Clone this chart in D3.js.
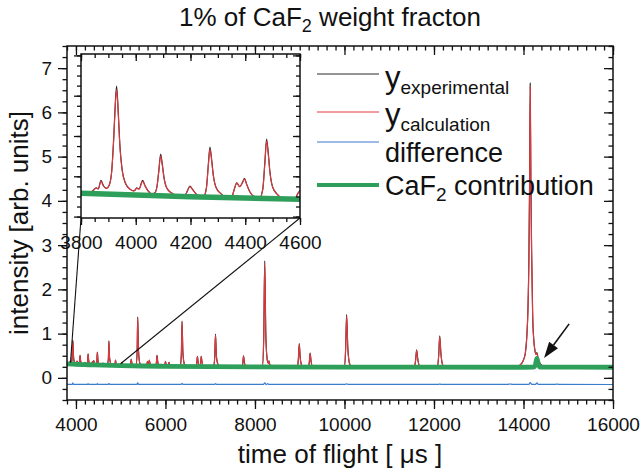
<!DOCTYPE html>
<html>
<head>
<meta charset="utf-8">
<script src="https://cdn.jsdelivr.net/npm/d3@7"></script>
<style>
  body { margin: 0; background: #fff; }
  svg text { font-family: "Liberation Sans", Arial, Helvetica, sans-serif; fill: #111; }
</style>
</head>
<body>
<div id="chart"></div>
<script>
// ---- values ----
// time of flight [us] for the experimental / calculated pattern
const tof = [
    3800, 3830, 3845, 3855, 3863, 3873, 3882, 3893,
    3903, 3912, 3920, 3925, 3930, 3936, 3942, 3950, 3962, 3980, 3992,
    3998, 4003, 4012, 4025, 4034, 4045, 4060,
    4070, 4078, 4084, 4091, 4097, 4103, 4113, 4131, 4151,
    4178, 4189, 4198, 4207, 4220, 4238,
    4248, 4258, 4265, 4271, 4277, 4283, 4293, 4311, 4331,
    4350, 4361, 4369, 4380, 4390, 4397, 4405, 4416, 4435,
    4453, 4464, 4472, 4478, 4484, 4490, 4500, 4518, 4538,
    4580, 4594, 4605, 4616, 4632, 4655,
    4700, 4724, 4736, 4752, 4790, 4830,
    4860, 4875, 4884, 4895, 4915,
    5010, 5022, 5030, 5040, 5060,
    5205, 5224, 5235, 5250, 5275,
    5340, 5366, 5380, 5398, 5430, 5470,
    5570, 5588, 5597, 5615, 5630, 5640, 5655, 5680,
    5780, 5798, 5811, 5828, 5860,
    5975, 5990, 6000, 6015, 6040, 6065, 6080, 6095, 6120,
    6330, 6355, 6370, 6390, 6425, 6465,
    6680, 6700, 6714, 6732, 6760, 6785, 6800, 6818, 6850,
    7075, 7100, 7118, 7140, 7180, 7230,
    7710, 7728, 7744, 7765, 7800,
    8165, 8195, 8218, 8243, 8275, 8300, 8312, 8330, 8380,
    8945, 8970, 8990, 9012, 9050, 9090,
    9195, 9215, 9232, 9254, 9290,
    9995, 10025, 10048, 10075, 10120, 10170,
    11560, 11590, 11612, 11638, 11690,
    12075, 12105, 12128, 12156, 12205, 12260,
    13850, 13925, 13990, 14040, 14075, 14100, 14120, 14135, 14150, 14165, 14182,
    14205, 14230, 14255, 14278, 14300, 14322, 14355, 14400, 14470, 14560,
    16000
];
const yCalc = [
    0.316, 0.316, 0.330, 0.341, 0.337, 0.375, 0.352, 0.340,
    0.355, 0.420, 0.596, 0.742, 0.830, 0.711, 0.549, 0.432, 0.366, 0.335, 0.328,
    0.332, 0.341, 0.336, 0.375, 0.352, 0.328, 0.312,
    0.318, 0.352, 0.420, 0.500, 0.455, 0.393, 0.342, 0.317, 0.303,
    0.301, 0.328, 0.349, 0.335, 0.313, 0.299,
    0.300, 0.340, 0.450, 0.535, 0.480, 0.406, 0.345, 0.314, 0.297,
    0.297, 0.340, 0.366, 0.348, 0.368, 0.386, 0.360, 0.325, 0.298,
    0.293, 0.335, 0.470, 0.575, 0.510, 0.420, 0.346, 0.309, 0.290,
    0.288, 0.318, 0.332, 0.316, 0.295, 0.285,
    0.284, 0.420, 0.820, 0.440, 0.300, 0.281,
    0.280, 0.330, 0.400, 0.330, 0.283,
    0.277, 0.310, 0.350, 0.310, 0.277,
    0.274, 0.330, 0.420, 0.330, 0.275,
    0.271, 0.550, 1.350, 0.600, 0.320, 0.270,
    0.267, 0.320, 0.370, 0.300, 0.340, 0.400, 0.320, 0.268,
    0.265, 0.350, 0.500, 0.360, 0.266,
    0.262, 0.310, 0.370, 0.300, 0.265, 0.290, 0.350, 0.290, 0.261,
    0.259, 0.520, 1.260, 0.560, 0.300, 0.257,
    0.256, 0.340, 0.480, 0.340, 0.262, 0.340, 0.480, 0.340, 0.256,
    0.254, 0.450, 0.970, 0.470, 0.290, 0.253,
    0.250, 0.330, 0.490, 0.340, 0.252,
    0.248, 0.850, 2.600, 0.950, 0.400, 0.330, 0.380, 0.300, 0.250,
    0.246, 0.420, 0.760, 0.440, 0.270, 0.245,
    0.246, 0.360, 0.550, 0.370, 0.250,
    0.244, 0.620, 1.400, 0.660, 0.300, 0.243,
    0.242, 0.400, 0.620, 0.420, 0.250,
    0.242, 0.500, 0.930, 0.530, 0.270, 0.241,
    0.242, 0.290, 0.380, 0.550, 0.950, 1.550, 2.600, 4.200, 6.580, 4.400, 2.800,
    1.400, 0.850, 0.620, 0.530, 0.560, 0.460, 0.350, 0.290, 0.255, 0.242,
    0.240
];
const yExp = [
    0.316, 0.316, 0.331, 0.343, 0.338, 0.380, 0.353, 0.340,
    0.356, 0.424, 0.605, 0.755, 0.848, 0.722, 0.556, 0.436, 0.367, 0.335, 0.328,
    0.332, 0.343, 0.337, 0.380, 0.353, 0.328, 0.312,
    0.318, 0.353, 0.425, 0.510, 0.460, 0.396, 0.343, 0.317, 0.303,
    0.301, 0.329, 0.351, 0.336, 0.313, 0.299,
    0.300, 0.341, 0.456, 0.545, 0.487, 0.410, 0.346, 0.314, 0.297,
    0.297, 0.341, 0.368, 0.349, 0.370, 0.390, 0.361, 0.325, 0.298,
    0.293, 0.336, 0.477, 0.585, 0.518, 0.425, 0.347, 0.309, 0.290,
    0.288, 0.319, 0.334, 0.317, 0.295, 0.285,
    0.284, 0.425, 0.835, 0.445, 0.300, 0.281,
    0.280, 0.331, 0.404, 0.331, 0.283,
    0.277, 0.311, 0.352, 0.311, 0.277,
    0.274, 0.331, 0.425, 0.331, 0.275,
    0.271, 0.560, 1.375, 0.610, 0.321, 0.270,
    0.267, 0.321, 0.373, 0.301, 0.341, 0.404, 0.321, 0.268,
    0.265, 0.352, 0.508, 0.362, 0.266,
    0.262, 0.311, 0.373, 0.301, 0.265, 0.291, 0.353, 0.291, 0.261,
    0.259, 0.528, 1.285, 0.568, 0.301, 0.257,
    0.256, 0.342, 0.488, 0.342, 0.262, 0.342, 0.486, 0.342, 0.256,
    0.254, 0.455, 0.990, 0.476, 0.291, 0.253,
    0.250, 0.332, 0.497, 0.342, 0.252,
    0.248, 0.865, 2.645, 0.965, 0.405, 0.332, 0.384, 0.301, 0.250,
    0.246, 0.425, 0.775, 0.445, 0.271, 0.245,
    0.246, 0.362, 0.560, 0.372, 0.250,
    0.244, 0.630, 1.430, 0.670, 0.301, 0.243,
    0.242, 0.403, 0.632, 0.424, 0.250,
    0.242, 0.505, 0.950, 0.535, 0.271, 0.241,
    0.242, 0.291, 0.382, 0.555, 0.960, 1.570, 2.640, 4.260, 6.660, 4.460, 2.830,
    1.420, 0.860, 0.625, 0.535, 0.570, 0.465, 0.352, 0.291, 0.255, 0.242,
    0.240
];

// difference curve (offset below zero)
const diffTof = [3800, 3920, 3930, 3942, 4260, 4271, 4282, 4468, 4478, 4490, 4725, 4736, 4750,
    5365, 5380, 5398, 6355, 6370, 6390, 7100, 7118, 7140, 8195, 8218, 8243, 8260, 8285, 8305,
    10025, 10048, 10075, 12105, 12128, 12156, 13650, 13700, 13750, 14120, 14150, 14185,
    14270, 14300, 14330, 14720, 14750, 14780, 16000];
const yDiff = [-0.145, -0.145, -0.115, -0.145, -0.145, -0.130, -0.145, -0.145, -0.128, -0.145, -0.145, -0.125, -0.145,
    -0.145, -0.110, -0.145, -0.145, -0.125, -0.145, -0.145, -0.130, -0.145, -0.145, -0.110, -0.145, -0.145, -0.130, -0.145,
    -0.145, -0.135, -0.145, -0.145, -0.138, -0.145, -0.145, -0.138, -0.145, -0.145, -0.105, -0.145,
    -0.145, -0.115, -0.145, -0.145, -0.138, -0.145, -0.150];

// CaF2 contribution (incl. background)
const cafTof = [3800, 4000, 4200, 4400, 4600, 5000, 5500, 6000, 7000, 8000, 10000, 12000, 14000,
    14230, 14265, 14300, 14335, 14370, 16000];
const yCaF2 = [0.316, 0.307, 0.299, 0.292, 0.286, 0.277, 0.268, 0.262, 0.253, 0.248, 0.243, 0.241, 0.240,
    0.242, 0.290, 0.440, 0.300, 0.243, 0.240];

// axes
const xDomain = [3800, 16000];
const yDomain = [-0.5, 7.5];
const xTicks = [4000, 6000, 8000, 10000, 12000, 14000, 16000];
const yTicks = [0, 1, 2, 3, 4, 5, 6, 7];
const insetXDomain = [3800, 4600];
const insetYDomain = [0.193, 1.007];
const insetXTicks = [3800, 4000, 4200, 4400, 4600];
const insetYTicks = [0.2, 0.4, 0.6, 0.8, 1.0];

// annotations (data units)
const connectorEnds = [[3878, 0.34], [4996, 0.32]];
const arrowFrom = [15020, 1.22];
const arrowTo = [14460, 0.45];

const colors = { exp: '#2b2b2b', calc: '#e2383d', diff: '#3b7bcb', caf: '#2e9f5b' };

function createChart() {
    const width = 640, height = 473;
    const margin = { top: 46, right: 27, bottom: 73, left: 67 };
    const plotW = width - margin.left - margin.right;
    const plotH = height - margin.top - margin.bottom;
    const inset = { left: 81, top: 54, width: 219, height: 164 };

    const svg = d3.select('#chart').append('svg')
        .attr('width', width)
        .attr('height', height);

    const x = d3.scaleLinear().domain(xDomain).range([margin.left, margin.left + plotW]);
    const y = d3.scaleLinear().domain(yDomain).range([margin.top + plotH, margin.top]);
    const ix = d3.scaleLinear().domain(insetXDomain).range([inset.left, inset.left + inset.width]);
    const iy = d3.scaleLinear().domain(insetYDomain).range([inset.top + inset.height, inset.top]);

    const defs = svg.append('defs');
    defs.append('clipPath').attr('id', 'clip-main').append('rect')
        .attr('x', margin.left).attr('y', margin.top).attr('width', plotW).attr('height', plotH);
    defs.append('clipPath').attr('id', 'clip-inset').append('rect')
        .attr('x', inset.left).attr('y', inset.top).attr('width', inset.width).attr('height', inset.height);

    const patExp = d3.zip(tof, yExp);
    const patCalc = d3.zip(tof, yCalc);
    const patDiff = d3.zip(diffTof, yDiff);
    const patCaf = d3.zip(cafTof, yCaF2);

    function drawSeries(g, sx, sy, withDiff, cafWidth) {
        const line = d3.line().x(d => sx(d[0])).y(d => sy(d[1])).curve(d3.curveMonotoneX);
        g.append('path').attr('d', line(patExp)).attr('fill', 'none')
            .attr('stroke', colors.exp).attr('stroke-width', 1.2);
        g.append('path').attr('d', line(patCalc)).attr('fill', 'none')
            .attr('stroke', colors.calc).attr('stroke-width', 1.1);
        if (withDiff) {
            g.append('path').attr('d', line(patDiff)).attr('fill', 'none')
                .attr('stroke', colors.diff).attr('stroke-width', 1.2);
        }
        g.append('path').attr('d', line(patCaf)).attr('fill', 'none')
            .attr('stroke', colors.caf).attr('stroke-width', cafWidth)
            .attr('stroke-linejoin', 'round');
    }

    // axis helper: major + minor ticks, no domain line
    function addAxis(axisFn, scale, transform, majors, minors, majorLen, minorLen, labels, pad, fontSize) {
        const gMinor = svg.append('g').attr('transform', transform)
            .call(axisFn(scale).tickValues(minors).tickSize(minorLen).tickSizeOuter(0).tickFormat(''));
        const gMajor = svg.append('g').attr('transform', transform)
            .call(axisFn(scale).tickValues(majors).tickSize(majorLen).tickSizeOuter(0).tickPadding(pad)
                .tickFormat(labels ? d3.format('d') : ''));
        [gMinor, gMajor].forEach(g => {
            g.select('.domain').remove();
            g.selectAll('line').attr('stroke', '#111').attr('stroke-width', 1.3);
            g.selectAll('text').attr('font-size', fontSize).attr('fill', '#111')
                .attr('font-family', '"Liberation Sans", Arial, sans-serif');
        });
    }

    // ---- main plot ----
    const main = svg.append('g').attr('clip-path', 'url(#clip-main)');
    drawSeries(main, x, y, true, 4.8);

    const xMinor = d3.range(3800, 16001, 200);
    const yMinor = d3.range(-0.5, 7.51, 0.25);
    const bottomY = margin.top + plotH, rightX = margin.left + plotW;
    addAxis(d3.axisBottom, x, `translate(0,${bottomY})`, xTicks, xMinor, 9, 4.5, true, 9, 19);
    addAxis(d3.axisBottom, x, `translate(0,${margin.top})`, xTicks, xMinor, 9, 4.5, false, 0, 19);
    addAxis(d3.axisLeft, y, `translate(${margin.left},0)`, yTicks, yMinor, 9, 4.5, true, 6, 19);
    addAxis(d3.axisLeft, y, `translate(${rightX},0)`, yTicks, yMinor, 9, 4.5, false, 0, 19);

    svg.append('rect')
        .attr('x', margin.left).attr('y', margin.top).attr('width', plotW).attr('height', plotH)
        .attr('fill', 'none').attr('stroke', '#111').attr('stroke-width', 1.5);

    // zoom connector lines
    const insetCorners = [[inset.left, inset.top + inset.height], [inset.left + inset.width, inset.top + inset.height]];
    connectorEnds.forEach((p, i) => {
        svg.append('line')
            .attr('x1', insetCorners[i][0]).attr('y1', insetCorners[i][1])
            .attr('x2', x(p[0])).attr('y2', y(p[1]))
            .attr('stroke', '#111').attr('stroke-width', 1.1);
    });

    // ---- inset ----
    svg.append('rect')
        .attr('x', inset.left).attr('y', inset.top).attr('width', inset.width).attr('height', inset.height)
        .attr('fill', '#fff');
    const insetG = svg.append('g').attr('clip-path', 'url(#clip-inset)');
    drawSeries(insetG, ix, iy, false, 5.5);

    const ixMinor = d3.range(3800, 4601, 50);
    const iyMinor = d3.range(0.2, 1.01, 0.05);
    const iBottom = inset.top + inset.height, iRight = inset.left + inset.width;
    addAxis(d3.axisBottom, ix, `translate(0,${iBottom})`, insetXTicks, ixMinor, 7, 4, true, 11, 19);
    addAxis(d3.axisBottom, ix, `translate(0,${inset.top})`, insetXTicks, ixMinor, 7, 4, false, 0, 19);
    addAxis(d3.axisLeft, iy, `translate(${inset.left},0)`, insetYTicks, iyMinor, 7, 4, false, 0, 19);
    addAxis(d3.axisLeft, iy, `translate(${iRight},0)`, insetYTicks, iyMinor, 7, 4, false, 0, 19);

    svg.append('rect')
        .attr('x', inset.left).attr('y', inset.top).attr('width', inset.width).attr('height', inset.height)
        .attr('fill', 'none').attr('stroke', '#111').attr('stroke-width', 1.5);

    // ---- arrow ----
    const ax1 = x(arrowFrom[0]), ay1 = y(arrowFrom[1]);
    const ax2 = x(arrowTo[0]), ay2 = y(arrowTo[1]);
    const ang = Math.atan2(ay2 - ay1, ax2 - ax1);
    const headLen = 16, headW = 5.5;
    const bx = ax2 - headLen * Math.cos(ang), by = ay2 - headLen * Math.sin(ang);
    svg.append('line').attr('x1', ax1).attr('y1', ay1).attr('x2', bx).attr('y2', by)
        .attr('stroke', '#111').attr('stroke-width', 1.6);
    svg.append('path')
        .attr('d', `M${ax2},${ay2} L${bx - headW * Math.sin(ang)},${by + headW * Math.cos(ang)} L${bx + headW * Math.sin(ang)},${by - headW * Math.cos(ang)} Z`)
        .attr('fill', '#111');

    // ---- legend ----
    const legendParts = [
        [{ t: 'y', big: true }, { t: 'experimental', sub: true }],
        [{ t: 'y', big: true }, { t: 'calculation', sub: true }],
        [{ t: 'difference' }],
        [{ t: 'CaF' }, { t: '2', sub: true }, { t: ' contribution', back: true }]
    ];
    const legendColors = [colors.exp, colors.calc, colors.diff, colors.caf];
    const legendWidths = [1, 1, 1.2, 4];
    const lineYs = [74, 112, 142, 185];
    const textYs = [88, 125, 162, 195];
    legendParts.forEach((parts, i) => {
        svg.append('line')
            .attr('x1', 317).attr('x2', 379).attr('y1', lineYs[i]).attr('y2', lineYs[i])
            .attr('stroke', legendColors[i]).attr('stroke-width', legendWidths[i]);
        const t = svg.append('text').attr('x', 385).attr('y', textYs[i]).attr('font-size', 27);
        parts.forEach(p => {
            const ts = t.append('tspan').text(p.t);
            if (p.big) ts.attr('font-size', 31);
            if (p.sub) ts.attr('font-size', 19).attr('dy', 6);
            if (p.back) ts.attr('dy', -6);
        });
    });

    // ---- titles ----
    const title = svg.append('text').attr('x', 330).attr('y', 26)
        .attr('text-anchor', 'middle').attr('font-size', 26);
    title.append('tspan').text('1% of CaF');
    title.append('tspan').text('2').attr('font-size', 18).attr('dy', 6);
    title.append('tspan').text(' weight fracton').attr('dy', -6);

    svg.append('text')
        .attr('x', margin.left + plotW / 2).attr('y', 463)
        .attr('text-anchor', 'middle').attr('font-size', 26)
        .text('time of flight [ \u03bcs ]');

    svg.append('text')
        .attr('transform', `translate(28,${margin.top + plotH / 2}) rotate(-90)`)
        .attr('text-anchor', 'middle').attr('font-size', 26)
        .text('intensity [arb. units]');
}

document.addEventListener('DOMContentLoaded', () => {
    createChart();
});
</script>
</body>
</html>
